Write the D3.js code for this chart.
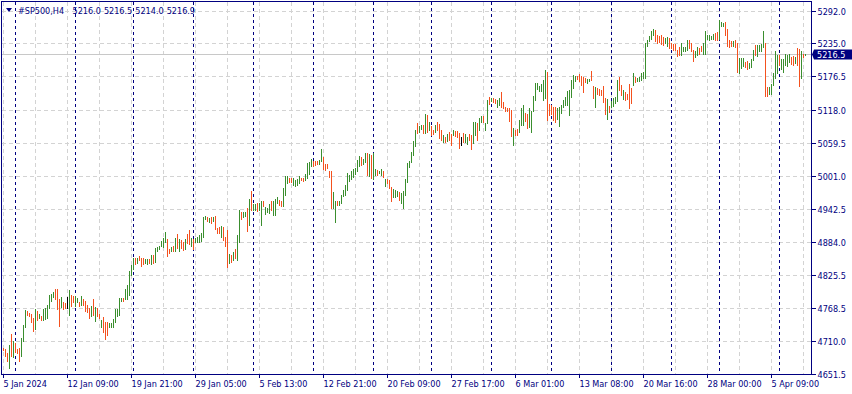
<!DOCTYPE html>
<html>
<head>
<meta charset="utf-8">
<script src="https://cdn.jsdelivr.net/npm/d3@7"></script>
<style>
  html, body { margin: 0; padding: 0; background: #ffffff; }
  svg { display: block; }
  text { font-family: "DejaVu Sans Condensed", "Liberation Sans", sans-serif; }
</style>
</head>
<body>
<svg id="chart" width="852" height="394"></svg>
<script>
// ---------------- DATA ----------------
const symbolLabel = "#SP500,H4";
const lastOHLC = ["5216.0", "5216.5", "5214.0", "5216.9"];
const bidPrice = 5216.5;

const barHigh = [
4698,4696,4688,4703,4722,4709,4706,4696,4697,4715,4738,4765,4762,4760,4757,4750,4766,4763,4757,4754,
4767,4768,4774,4791,4792,4796,4802,4802,4783,4787,4778,4777,4788,4800,4791,4790,4790,4785,4778,4790,
4784,4780,4774,4768,4771,4783,4769,4768,4758,4747,4752,4744,4743,4741,4741,4749,4767,4767,4785,4785,
4785,4802,4809,4834,4843,4857,4856,4857,4859,4857,4856,4855,4855,4855,4862,4861,4874,4875,4878,4887,
4892,4902,4889,4872,4875,4878,4891,4899,4889,4888,4885,4890,4898,4906,4891,4889,4892,4894,4896,4900,
4929,4931,4928,4926,4928,4929,4931,4909,4911,4912,4911,4893,4905,4864,4862,4866,4872,4897,4941,4937,
4938,4938,4944,4960,4975,4952,4952,4953,4954,4956,4956,4947,4945,4952,4957,4957,4960,4963,4958,4957,
4979,5000,5000,4998,4998,4997,4994,4995,5000,4998,4998,5004,5023,5025,5030,5028,5028,5028,5029,5048,
5035,5022,5022,5010,5010,4972,4957,4957,4956,4968,4976,4985,5006,5003,5009,5013,5015,5029,5036,5035,
5031,5041,5041,5040,5038,5041,5013,5012,5010,5013,5009,4995,4996,4994,4982,4978,4976,4974,4972,4971,
4975,4995,5023,5028,5044,5063,5082,5094,5089,5091,5090,5110,5109,5097,5089,5082,5090,5097,5093,5082,
5073,5069,5075,5079,5075,5082,5080,5080,5076,5069,5076,5075,5070,5075,5073,5097,5097,5094,5103,5106,
5107,5094,5135,5141,5139,5138,5136,5135,5139,5149,5132,5123,5121,5120,5117,5085,5082,5083,5100,5120,
5127,5112,5110,5120,5115,5142,5165,5165,5159,5163,5170,5188,5185,5128,5126,5122,5123,5120,5123,5126,
5135,5141,5150,5153,5170,5179,5178,5177,5180,5178,5176,5173,5172,5172,5186,5159,5158,5156,5154,5153,
5160,5139,5136,5125,5133,5139,5140,5171,5176,5162,5152,5149,5146,5164,5156,5182,5176,5174,5176,5182,
5185,5235,5240,5248,5256,5260,5258,5249,5248,5250,5246,5244,5246,5244,5235,5233,5233,5224,5229,5235,
5229,5229,5240,5240,5235,5223,5221,5229,5226,5230,5235,5256,5249,5249,5248,5252,5254,5255,5276,5273,
5271,5273,5261,5240,5239,5239,5240,5235,5209,5209,5209,5202,5203,5201,5208,5223,5232,5232,5232,5233,
5256,5235,5158,5158,5164,5182,5221,5215,5214,5208,5208,5217,5215,5217,5211,5213,5211,5226,5225,5222,
5217,5217
];
const barLow = [
4693,4683,4674,4662,4683,4681,4691,4688,4675,4683,4709,4735,4756,4753,4744,4728,4731,4747,4750,4746,
4747,4748,4751,4768,4781,4788,4783,4767,4737,4769,4767,4768,4768,4756,4772,4778,4771,4778,4772,4774,
4774,4763,4761,4750,4753,4756,4745,4754,4750,4735,4725,4713,4720,4735,4734,4735,4743,4753,4755,4781,
4780,4784,4783,4791,4827,4837,4845,4847,4853,4842,4845,4847,4845,4847,4845,4848,4850,4869,4872,4877,
4875,4885,4859,4865,4868,4868,4868,4874,4868,4874,4871,4872,4882,4881,4877,4872,4884,4885,4884,4887,
4894,4925,4921,4919,4918,4921,4907,4901,4901,4894,4888,4877,4840,4847,4850,4852,4856,4852,4885,4925,
4928,4931,4903,4915,4940,4940,4941,4939,4940,4915,4948,4934,4938,4935,4941,4932,4932,4953,4950,4948,
4948,4968,4989,4991,4990,4985,4984,4985,4988,4993,4992,4994,4997,5004,5018,5019,5020,5022,5022,5028,
5013,5012,5015,4999,4944,4944,4919,4950,4950,4953,4966,4968,4976,4992,4996,4999,5004,5010,5019,5020,
5022,5026,5002,5001,4997,4996,5003,5003,5006,5002,4999,4984,4989,4979,4956,4964,4964,4966,4959,4953,
4945,4968,4990,5017,5025,5038,5053,5076,5079,5084,5076,5076,5079,5082,5073,5075,5078,5082,5068,5065,
5060,5060,5063,5065,5055,5073,5072,5070,5051,5056,5060,5060,5057,5065,5049,5059,5073,5065,5082,5097,
5097,5082,5094,5128,5133,5132,5129,5122,5126,5123,5120,5116,5115,5098,5072,5055,5073,5074,5079,5090,
5090,5098,5085,5088,5079,5115,5135,5155,5150,5151,5135,5138,5100,5109,5110,5100,5097,5101,5089,5112,
5123,5126,5126,5109,5141,5156,5169,5172,5169,5162,5149,5166,5165,5169,5170,5139,5122,5145,5143,5143,
5132,5111,5102,5113,5123,5125,5129,5133,5152,5143,5136,5135,5136,5120,5130,5161,5167,5168,5168,5170,
5173,5174,5230,5239,5243,5250,5239,5236,5237,5233,5232,5235,5230,5227,5226,5224,5223,5213,5215,5215,
5221,5221,5223,5226,5221,5203,5211,5214,5217,5221,5217,5217,5243,5240,5243,5243,5240,5241,5243,5266,
5266,5249,5230,5229,5230,5230,5229,5185,5182,5192,5195,5193,5190,5192,5193,5205,5214,5212,5221,5221,
5229,5142,5142,5145,5145,5161,5174,5183,5196,5190,5185,5196,5195,5202,5199,5197,5201,5197,5160,5173,
5211,5214
];
// bar direction: u = bullish, d = bearish, n = unchanged (doji)
const barDir = [
"d","d","d","u","d","u","d","d","d","u","u","u","d","d","d","d","u","d","u","d",
"u","u","u","u","u","u","d","d","d","u","d","d","n","u","d","d","u","u","d","u",
"d","d","d","d","u","d","u","d","d","u","d","d","d","u","u","u","u","u","u","u",
"d","u","u","u","u","u","d","u","d","d","d","u","u","d","u","d","u","u","u","u",
"u","u","d","d","u","d","u","d","u","d","d","u","d","d","u","d","u","u","u","u",
"u","u","d","u","d","u","d","d","d","u","d","d","d","u","d","u","d","u","u","d",
"u","u","d","u","d","u","u","d","u","u","d","u","u","u","d","u","u","u","d","d",
"u","u","u","d","d","u","u","u","u","d","d","u","u","u","u","d","d","d","u","u",
"d","d","d","d","d","u","u","d","u","u","u","u","u","u","u","u","u","u","u","d",
"u","u","d","u","d","u","u","d","u","u","d","u","d","d","d","u","u","u","d","u",
"u","u","u","u","u","u","u","d","u","u","d","u","d","u","d","d","u","d","d","d",
"u","d","u","d","d","u","d","d","d","n","d","u","u","d","d","u","u","d","u","u",
"d","u","u","d","u","d","d","u","u","d","d","d","d","d","d","u","d","d","u","u",
"u","d","d","u","u","u","u","u","u","u","u","u","d","d","d","d","d","u","u","u",
"u","u","u","u","u","u","u","d","d","d","d","d","u","u","d","d","u","d","d","d",
"d","d","u","d","u","u","u","u","d","d","u","d","d","d","d","u","d","u","u","u",
"u","u","u","u","u","u","d","d","d","d","d","u","u","d","d","d","d","d","d","u",
"u","u","u","d","d","d","u","u","d","d","u","u","u","u","u","u","d","d","u","u",
"u","d","d","d","d","u","d","d","u","u","u","d","d","u","u","u","d","u","u","u",
"u","d","d","u","u","u","u","u","d","u","u","u","u","u","d","d","u","d","d","u",
"d","u"
];

const priceTicks = ["5292.0","5235.0","5176.5","5118.0","5059.5","5001.0","4942.5","4884.0","4825.5","4768.5","4710.0","4651.5"];
const timeLabels = ["5 Jan 2024","12 Jan 09:00","19 Jan 21:00","29 Jan 05:00","5 Feb 13:00","12 Feb 21:00",
  "20 Feb 09:00","27 Feb 17:00","6 Mar 01:00","13 Mar 08:00","20 Mar 16:00","28 Mar 00:00","5 Apr 09:00"];
// index of the first bar of each trading week (period separators)
const weekStarts = [6,36,65,95,125,155,185,214,244,274,304,334,358,388];

// ---------------- DRAWING ----------------
const W = 852, H = 394;
const plot = { left: 1, top: 1, right: 811, bottom: 374 };
const NAVY = "#000080";
const UP = "#3a8e2e", DOWN = "#f4511e", DOJI = "#000000";
const GRID = "#d3d3d3";
const FONT = '"DejaVu Sans Condensed", "Liberation Sans", sans-serif';

const svg = d3.select("#chart");
svg.append("rect").attr("width", W).attr("height", H).attr("fill", "#ffffff");

const n = barHigh.length;
const x = d3.scaleLinear().domain([0, n - 1]).range([3, 3 + 2 * (n - 1)]);
const y = d3.scaleLinear().domain([4651.5, 5292.0]).range([374, 11]);

const g = svg.append("g").attr("shape-rendering", "crispEdges");

// horizontal grid
const gridVals = priceTicks.map(Number).filter(v => v > 4651.5);
g.selectAll("line.hgrid").data(gridVals).enter().append("line")
  .attr("x1", plot.left + 1).attr("x2", plot.right)
  .attr("y1", d => Math.round(y(d)) + 0.5).attr("y2", d => Math.round(y(d)) + 0.5)
  .attr("stroke", GRID).attr("stroke-width", 1).attr("stroke-dasharray", "4,3");

// vertical grid every 16 bars
const vgrid = d3.range(0, n, 16);
g.selectAll("line.vgrid").data(vgrid).enter().append("line")
  .attr("x1", d => x(d) + 0.5).attr("x2", d => x(d) + 0.5)
  .attr("y1", plot.top + 1).attr("y2", plot.bottom)
  .attr("stroke", GRID).attr("stroke-width", 1).attr("stroke-dasharray", "4,3");

// bid line
g.append("line")
  .attr("x1", plot.left + 1).attr("x2", plot.right)
  .attr("y1", Math.round(y(bidPrice)) + 0.5).attr("y2", Math.round(y(bidPrice)) + 0.5)
  .attr("stroke", "#c8c8c8").attr("stroke-width", 1);

// period separators
g.selectAll("line.sep").data(weekStarts).enter().append("line")
  .attr("x1", d => x(d) + 0.5).attr("x2", d => x(d) + 0.5)
  .attr("y1", plot.top + 1).attr("y2", plot.bottom)
  .attr("stroke", NAVY).attr("stroke-width", 1).attr("stroke-dasharray", "3,3");

// bars
const bars = d3.range(n).map(i => ({ i, h: barHigh[i], l: barLow[i], d: barDir[i] }));
g.selectAll("rect.bar").data(bars).enter().append("rect")
  .attr("x", d => x(d.i))
  .attr("y", d => Math.round(y(d.h)))
  .attr("width", 1)
  .attr("height", d => Math.max(1, Math.round(y(d.l)) - Math.round(y(d.h)) + 1))
  .attr("fill", d => d.d === "u" ? UP : d.d === "d" ? DOWN : DOJI);

// frame
g.append("rect")
  .attr("x", plot.left + 0.5).attr("y", plot.top + 0.5)
  .attr("width", plot.right - plot.left).attr("height", plot.bottom - plot.top)
  .attr("fill", "none").attr("stroke", NAVY).attr("stroke-width", 1);

// right price axis
const yAxis = d3.axisRight(y)
  .tickValues(priceTicks.map(Number))
  .tickFormat((d, i) => priceTicks[i])
  .tickSize(4).tickPadding(2).tickSizeOuter(0);
const ya = svg.append("g").attr("transform", `translate(${plot.right + 0.5},0)`).call(yAxis);
ya.select(".domain").remove();
ya.selectAll(".tick").attr("transform", d => `translate(0,${Math.round(y(d)) + 0.5})`);
ya.selectAll(".tick line").attr("stroke", NAVY).attr("shape-rendering", "crispEdges");
ya.selectAll(".tick text").attr("fill", NAVY).attr("font-size", 9).attr("dy", "0.38em")
  .attr("font-family", FONT);

// bottom time axis
const tIdx = timeLabels.map((t, k) => k * 32);
const xAxis = d3.axisBottom(x)
  .tickValues(tIdx)
  .tickFormat((d, i) => timeLabels[i])
  .tickSize(3).tickSizeOuter(0);
const xa = svg.append("g").attr("transform", `translate(0,${plot.bottom + 0.5})`).call(xAxis);
xa.select(".domain").remove();
xa.selectAll(".tick").attr("transform", d => `translate(${x(d) + 0.5},0)`);
xa.selectAll(".tick line").attr("stroke", NAVY).attr("shape-rendering", "crispEdges");
xa.selectAll(".tick text").attr("fill", NAVY).attr("font-size", 9)
  .attr("text-anchor", "start").attr("x", 0).attr("y", 12).attr("dy", 0)
  .attr("font-family", FONT);

// current price label box
const by = Math.round(y(bidPrice)) + 0.5;
svg.append("path")
  .attr("d", `M${plot.right + 1},${by} L${plot.right + 3},${by - 5} L${W},${by - 5} L${W},${by + 5} L${plot.right + 3},${by + 5} Z`)
  .attr("fill", NAVY);
svg.append("text").attr("x", 817).attr("y", by).attr("dy", "0.38em")
  .attr("fill", "#ffffff").attr("font-size", 9).attr("font-family", FONT).text(bidPrice.toFixed(1));

// header
svg.append("path").attr("d", "M6,8 L12,8 L9,12 Z").attr("fill", NAVY);
svg.append("text").attr("x", 18).attr("y", 14).attr("fill", NAVY).attr("font-size", 9)
  .attr("font-family", FONT).text(symbolLabel);
svg.selectAll("text.ohlc").data(lastOHLC).enter().append("text")
  .attr("x", (d, k) => 72.5 + k * 31.4).attr("y", 14)
  .attr("fill", NAVY).attr("font-size", 9).attr("font-family", FONT).text(d => d);
</script>
</body>
</html>
